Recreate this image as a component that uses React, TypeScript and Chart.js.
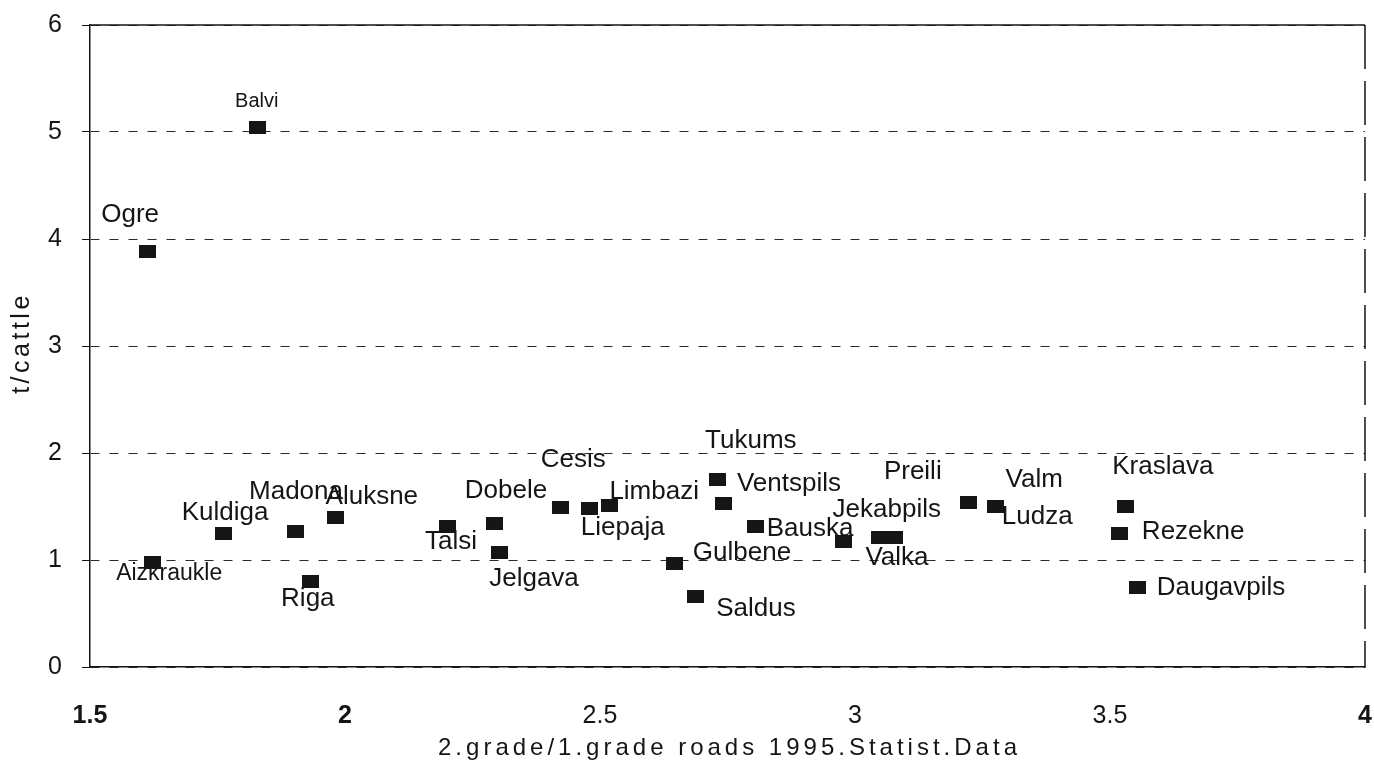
import React, { useEffect, useRef } from "react";
import { Chart, registerables } from "chart.js";

Chart.register(...registerables);

// ---- data ----
const DISTRICTS = [
  "Ogre", "Balvi", "Aizkraukle", "Kuldiga", "Madona", "Aluksne", "Riga",
  "Talsi", "Dobele", "Jelgava", "Cesis", "Liepaja", "Limbazi", "Tukums",
  "Ventspils", "Bauska", "Gulbene", "Saldus", "Jekabpils", "Valka", "Preili",
  "Valm", "Ludza", "Kraslava", "Rezekne", "Daugavpils",
];
const ROAD_RATIO = [
  1.612, 1.829, 1.622, 1.761, 1.902, 1.982, 1.933,
  2.200, 2.294, 2.302, 2.422, 2.480, 2.518, 2.731,
  2.743, 2.804, 2.647, 2.688, 2.978, 3.049, 3.078,
  3.222, 3.275, 3.531, 3.518, 3.553,
];
const T_PER_CATTLE = [
  3.88, 5.04, 0.98, 1.25, 1.27, 1.40, 0.80,
  1.31, 1.34, 1.07, 1.49, 1.48, 1.51, 1.75,
  1.53, 1.31, 0.97, 0.66, 1.17, 1.21, 1.21,
  1.54, 1.50, 1.50, 1.25, 0.74,
];
const X_TICKS = [1.5, 2, 2.5, 3, 3.5, 4];
const BOLD_X_TICKS = [1.5, 2, 4];
const Y_TICKS = [0, 1, 2, 3, 4, 5, 6];
const X_TITLE = "2.grade/1.grade roads 1995.Statist.Data";
const Y_TITLE = "t/cattle";

// ---- label placement (offset of label centre from marker, px) ----
const LABEL_OFFSETS: [number, number][] = [
  [-17, -37], [-1, -26], [17, 12], [2, -20], [1, -39], [36, -20], [-3, 17],
  [4, 15], [11, -33], [35, 26], [13, -48], [33, 19], [45, -14], [33, -39],
  [65, -19], [55, 2], [67, -10], [60, 12], [43, -32], [17, 20], [18, -66],
  [66, -22], [42, 10], [37, -40], [74, -1], [84, 0],
];
const LABEL_SIZE_DEFAULT = 26;
const LABEL_SIZE_SPECIAL: Record<string, number> = { Balvi: 20, Aizkraukle: 23 };

const FONT = "'Liberation Sans', Arial, sans-serif";
const INK = "#151515";

export default function App() {
  const canvasRef = useRef<HTMLCanvasElement | null>(null);

  useEffect(() => {
    const canvas = canvasRef.current;
    if (!canvas) return;

    const marker = document.createElement("canvas");
    marker.width = 17;
    marker.height = 13;
    const mctx = marker.getContext("2d")!;
    mctx.fillStyle = INK;
    mctx.fillRect(0, 0, 17, 13);

    const labelPlugin = {
      id: "pointLabels",
      afterDatasetsDraw(chart: any) {
        const ctx = chart.ctx;
        const meta = chart.getDatasetMeta(0);
        ctx.save();
        ctx.fillStyle = INK;
        ctx.textAlign = "center";
        ctx.textBaseline = "middle";
        meta.data.forEach((pt: any, i: number) => {
          const name = DISTRICTS[i];
          const size = LABEL_SIZE_SPECIAL[name] ?? LABEL_SIZE_DEFAULT;
          ctx.font = `${size}px ${FONT}`;
          const [dx, dy] = LABEL_OFFSETS[i];
          ctx.fillText(name, pt.x + dx, pt.y + dy);
        });
        ctx.restore();
      },
    };

    const framePlugin = {
      id: "frame",
      afterDraw(chart: any) {
        const { ctx, chartArea: a } = chart;
        ctx.save();
        ctx.strokeStyle = INK;
        ctx.lineWidth = 1.5;
        ctx.beginPath();
        ctx.moveTo(a.left, a.top);
        ctx.lineTo(a.right, a.top);
        ctx.stroke();
        ctx.setLineDash([44, 12]);
        ctx.beginPath();
        ctx.moveTo(a.right, a.top);
        ctx.lineTo(a.right, a.bottom);
        ctx.stroke();
        ctx.restore();

        // axis titles
        ctx.save();
        ctx.fillStyle = INK;
        ctx.textAlign = "center";
        ctx.textBaseline = "middle";
        ctx.font = `24px ${FONT}`;
        (ctx as any).letterSpacing = "4px";
        ctx.fillText(X_TITLE, (a.left + a.right) / 2 + 2, 748);
        ctx.translate(22, 343);
        ctx.rotate(-Math.PI / 2);
        (ctx as any).letterSpacing = "3.5px";
        ctx.font = `25px ${FONT}`;
        ctx.fillText(Y_TITLE, 0, 0);
        ctx.restore();
      },
    };

    const chart = new Chart(canvas, {
      type: "scatter",
      data: {
        datasets: [
          {
            data: ROAD_RATIO.map((x, i) => ({ x, y: T_PER_CATTLE[i] })),
            pointStyle: marker as any,
            pointRadius: 8,
            backgroundColor: INK,
            borderColor: INK,
          },
        ],
      },
      options: {
        animation: false,
        responsive: true,
        maintainAspectRatio: false,
        layout: { padding: { top: 25, right: 9, left: 0, bottom: 0 } },
        plugins: {
          legend: { display: false },
          tooltip: { enabled: false },
        },
        scales: {
          x: {
            type: "linear",
            min: 1.5,
            max: 4,
            afterBuildTicks: (scale: any) => {
              scale.ticks = X_TICKS.map((v) => ({ value: v }));
            },
            afterFit: (scale: any) => {
              scale.height = 101;
              scale.paddingLeft = 0;
              scale.paddingRight = 0;
            },
            grid: { display: false, drawTicks: false },
            border: { display: true, color: INK, width: 1.5 },
            ticks: {
              padding: 34,
              color: INK,
              maxRotation: 0,
              callback: (v: any) => String(v),
              font: (c: any) => ({
                family: FONT,
                size: 25,
                weight: c.tick && BOLD_X_TICKS.includes(c.tick.value) ? "bold" : "normal",
              }),
            },
          },
          y: {
            type: "linear",
            min: 0,
            max: 6,
            afterBuildTicks: (scale: any) => {
              scale.ticks = Y_TICKS.map((v) => ({ value: v }));
            },
            afterFit: (scale: any) => {
              scale.width = 90;
              scale.paddingTop = 0;
              scale.paddingBottom = 0;
            },
            grid: {
              color: "#2a2a2a",
              lineWidth: 1,
              drawTicks: true,
              tickLength: 8,
              tickColor: INK,
            },
            border: { display: true, color: INK, width: 1.5, dash: [9, 10] },
            ticks: {
              padding: 20,
              color: INK,
              font: { family: FONT, size: 25 },
            },
          },
        },
      },
      plugins: [labelPlugin, framePlugin],
    });

    return () => chart.destroy();
  }, []);

  return (
    <div style={{ position: "absolute", left: 0, top: 0, width: 1374, height: 768, background: "#fff" }}>
      <canvas ref={canvasRef} />
    </div>
  );
}
